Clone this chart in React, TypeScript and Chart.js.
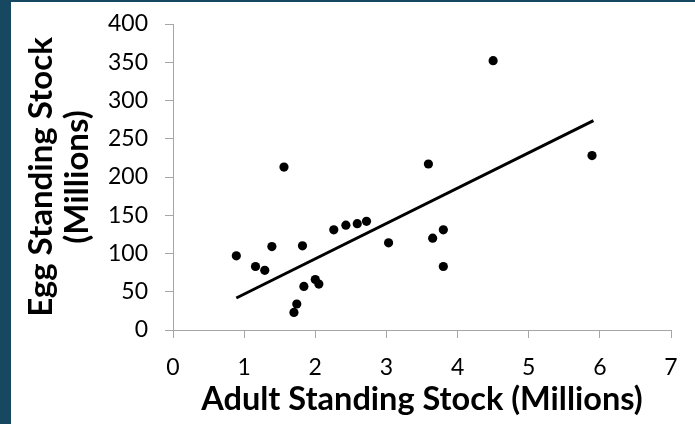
import React, { useEffect, useRef } from "react";
import { Chart, registerables } from "chart.js";

Chart.register(...registerables);

const adultStock = [0.89, 1.16, 1.29, 1.39, 1.56, 1.82, 1.84, 1.74, 1.7, 2.0, 2.05, 2.26, 2.43, 2.59, 2.72, 3.03, 3.59, 3.65, 3.8, 3.8, 4.5, 5.89];
const eggStock = [97, 83, 78, 109, 213, 110, 57, 34, 23, 66, 60, 131, 137, 139, 142, 114, 217, 120, 131, 83, 352, 228];
const trendX = [0.89, 5.91];
const trendY = [41.8, 273.6];

const xTitle = "Adult Standing Stock (Millions)";
const yTitle = ["Egg Standing Stock", "(Millions)"];

const FONT = "Lato, 'Open Sans', sans-serif";

export default function App() {
  const ref = useRef<HTMLCanvasElement | null>(null);
  useEffect(() => {
    if (!ref.current) return;
    const chart = new Chart(ref.current, {
      type: "scatter",
      data: {
        datasets: [
          {
            type: "scatter",
            data: adultStock.map((x, i) => ({ x, y: eggStock[i] })),
            backgroundColor: "#000000",
            borderWidth: 0,
            pointRadius: 4.6,
          },
          {
            type: "line",
            data: trendX.map((x, i) => ({ x, y: trendY[i] })),
            borderColor: "#000000",
            borderWidth: 3,
            pointRadius: 0,
            fill: false,
          },
        ],
      },
      options: {
        animation: false,
        responsive: false,
        layout: { padding: { top: 22, right: 24, left: 0, bottom: 0 } },
        plugins: { legend: { display: false }, tooltip: { enabled: false } },
        scales: {
          x: {
            type: "linear",
            min: 0,
            max: 7,
            afterFit: (s: any) => { s.height = 94; s.paddingLeft = 0; s.paddingRight = 0; },
            ticks: { stepSize: 1, color: "#000", font: { family: FONT, size: 23 }, padding: 16 },
            grid: { drawOnChartArea: false, drawTicks: true, tickLength: 8, color: "#a6a6a6" },
            border: { color: "#a6a6a6", width: 1 },
            title: {
              display: true,
              text: xTitle,
              color: "#000",
              font: { family: FONT, size: 32.5, weight: "bold", lineHeight: 1.2 },
              padding: { top: 0, bottom: 5 },
            },
          },
          y: {
            type: "linear",
            min: 0,
            max: 400,
            afterFit: (s: any) => { s.width = 162; s.paddingTop = 0; s.paddingBottom = 0; },
            ticks: { stepSize: 50, color: "#000", font: { family: FONT, size: 23 }, padding: 17 },
            grid: { drawOnChartArea: false, drawTicks: true, tickLength: 8, color: "#a6a6a6" },
            border: { color: "#a6a6a6", width: 1 },
            title: {
              display: true,
              text: yTitle,
              color: "#000",
              font: { family: FONT, size: 33, weight: "bold", lineHeight: 1.1 },
              padding: { top: 12, bottom: 0 },
            },
          },
        },
      },
    });
    return () => chart.destroy();
  }, []);
  return (
    <div style={{ position: "fixed", left: 0, top: 0, width: 695, height: 424, background: "#164862" }}>
      <canvas
        ref={ref}
        width={684}
        height={422}
        style={{ position: "absolute", left: 11, top: 2, width: 684, height: 422, background: "#ffffff" }}
      />
    </div>
  );
}
